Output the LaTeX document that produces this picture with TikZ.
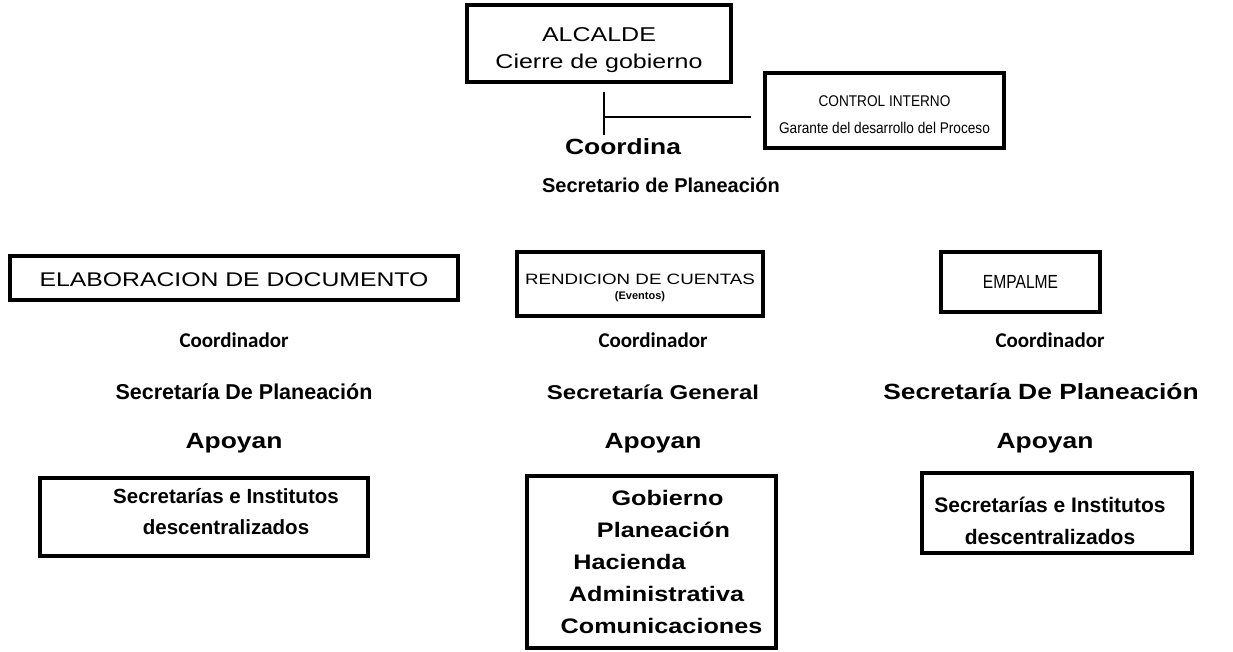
\documentclass[tikz,border=0pt]{standalone}
\usepackage{fontspec}
\setmainfont{Liberation Sans}
\newfontfamily\ancha{Liberation Sans}[FakeStretch=1.25]
\newfontfamily\anchab{Liberation Sans}[FakeStretch=1.2]
\newfontfamily\angosta{Liberation Sans}[FakeStretch=0.88]
\newfontfamily\estrecha{Liberation Sans}[FakeStretch=0.82]
\newfontfamily\carlito{Carlito}
\usetikzlibrary{positioning}

\tikzset{
  caja/.style={draw,line width=3.5pt,align=center,inner sep=0pt},
  suelta/.style={font=\bfseries\fontsize{20}{32}\selectfont,align=center},
  coord/.style={font=\carlito\bfseries\fontsize{21}{24}\selectfont},
  apoyo/.style={font=\anchab\bfseries\fontsize{22}{24}\selectfont}
}

\begin{document}
\begin{tikzpicture}[x=1pt,y=-1pt]
\useasboundingbox (0,0) rectangle (1233,652);

\node[caja,minimum width=264pt,minimum height=77pt,font=\ancha\fontsize{20}{27}\selectfont] (alcalde) at (599,43.5) {\rule{0pt}{27pt}ALCALDE\\Cierre de gobierno};
\node[caja,minimum width=239pt,minimum height=75pt,font=\angosta\fontsize{15.5}{27}\selectfont] (control) at (884.5,110.5) {\rule{0pt}{20pt}CONTROL INTERNO\\Garante del desarrollo del Proceso};

\coordinate (junta) at (604,117);
\coordinate (fin) at (604,135);
\draw[line width=1.2pt] ([yshift=-8pt]alcalde.south -| junta) -- (fin);
\draw[line width=1.2pt] (junta) -- ([xshift=-12pt]control.west |- junta);

\node[suelta,font=\anchab\bfseries\fontsize{22}{26}\selectfont] (coordina) at (623,147) {Coordina};
\node[suelta] (secplan) at (661,185) {Secretario de Planeación};

% las tres lineas de trabajo
\node[caja,minimum width=448pt,minimum height=44pt,font=\ancha\fontsize{19.8}{22}\selectfont] (elabora) at (234,278) {\rule{0pt}{17pt}ELABORACION DE DOCUMENTO};
\node[caja,minimum width=246pt,minimum height=64pt] (rinde) at (640,284) {\rule{0pt}{18pt}{\ancha\fontsize{15}{20}\selectfont RENDICION DE CUENTAS}\\[3pt]{\bfseries\fontsize{11}{12}\selectfont (Eventos)}};
\node[caja,minimum width=159pt,minimum height=60pt,font=\estrecha\fontsize{19}{20}\selectfont] (empalme) at (1020.5,282) {EMPALME};

\node[coord] (coordA) at (234,340) {Coordinador};
\node[coord] (coordB) at (653,340) {Coordinador};
\node[coord] (coordC) at (1050,340) {Coordinador};

\node[suelta,font=\bfseries\fontsize{21.5}{26}\selectfont] (secA) at (244,392) {Secretaría De Planeación};
\node[suelta,font=\anchab\bfseries\fontsize{20}{26}\selectfont] (secB) at (653,392) {Secretaría General};
\node[suelta,font=\anchab\bfseries\fontsize{22}{26}\selectfont] (secC) at (1041,392) {Secretaría De Planeación};

\node[apoyo] (apoyA) at (234,443) {Apoyan};
\node[apoyo] (apoyB) at (653,443) {Apoyan};
\node[apoyo] (apoyC) at (1045,443) {Apoyan};

\node[caja,suelta,font=\bfseries\fontsize{20.5}{31}\selectfont,minimum width=328pt,minimum height=78pt] (instA) at (204,517) {\hspace*{44pt}Secretarías e Institutos\\\hspace*{44pt}descentralizados\rule[-11pt]{0pt}{11pt}};
\node[caja,suelta,font=\anchab\bfseries\fontsize{21}{32}\selectfont,minimum width=249pt,minimum height=172pt] (instB) at (651.5,562) {\hspace*{32pt}Gobierno\\\hspace*{24pt}Planeación\\Hacienda\hspace*{44pt}\mbox{}\\\hspace*{10pt}Administrativa\\\hspace*{20pt}Comunicaciones};
\node[caja,suelta,font=\bfseries\fontsize{21}{32}\selectfont,minimum width=270pt,minimum height=80pt] (instC) at (1057,513) {\rule{0pt}{32pt}Secretarías e Institutos\hspace*{14pt}\mbox{}\\descentralizados\hspace*{14pt}\mbox{}};
\end{tikzpicture}
\end{document}
